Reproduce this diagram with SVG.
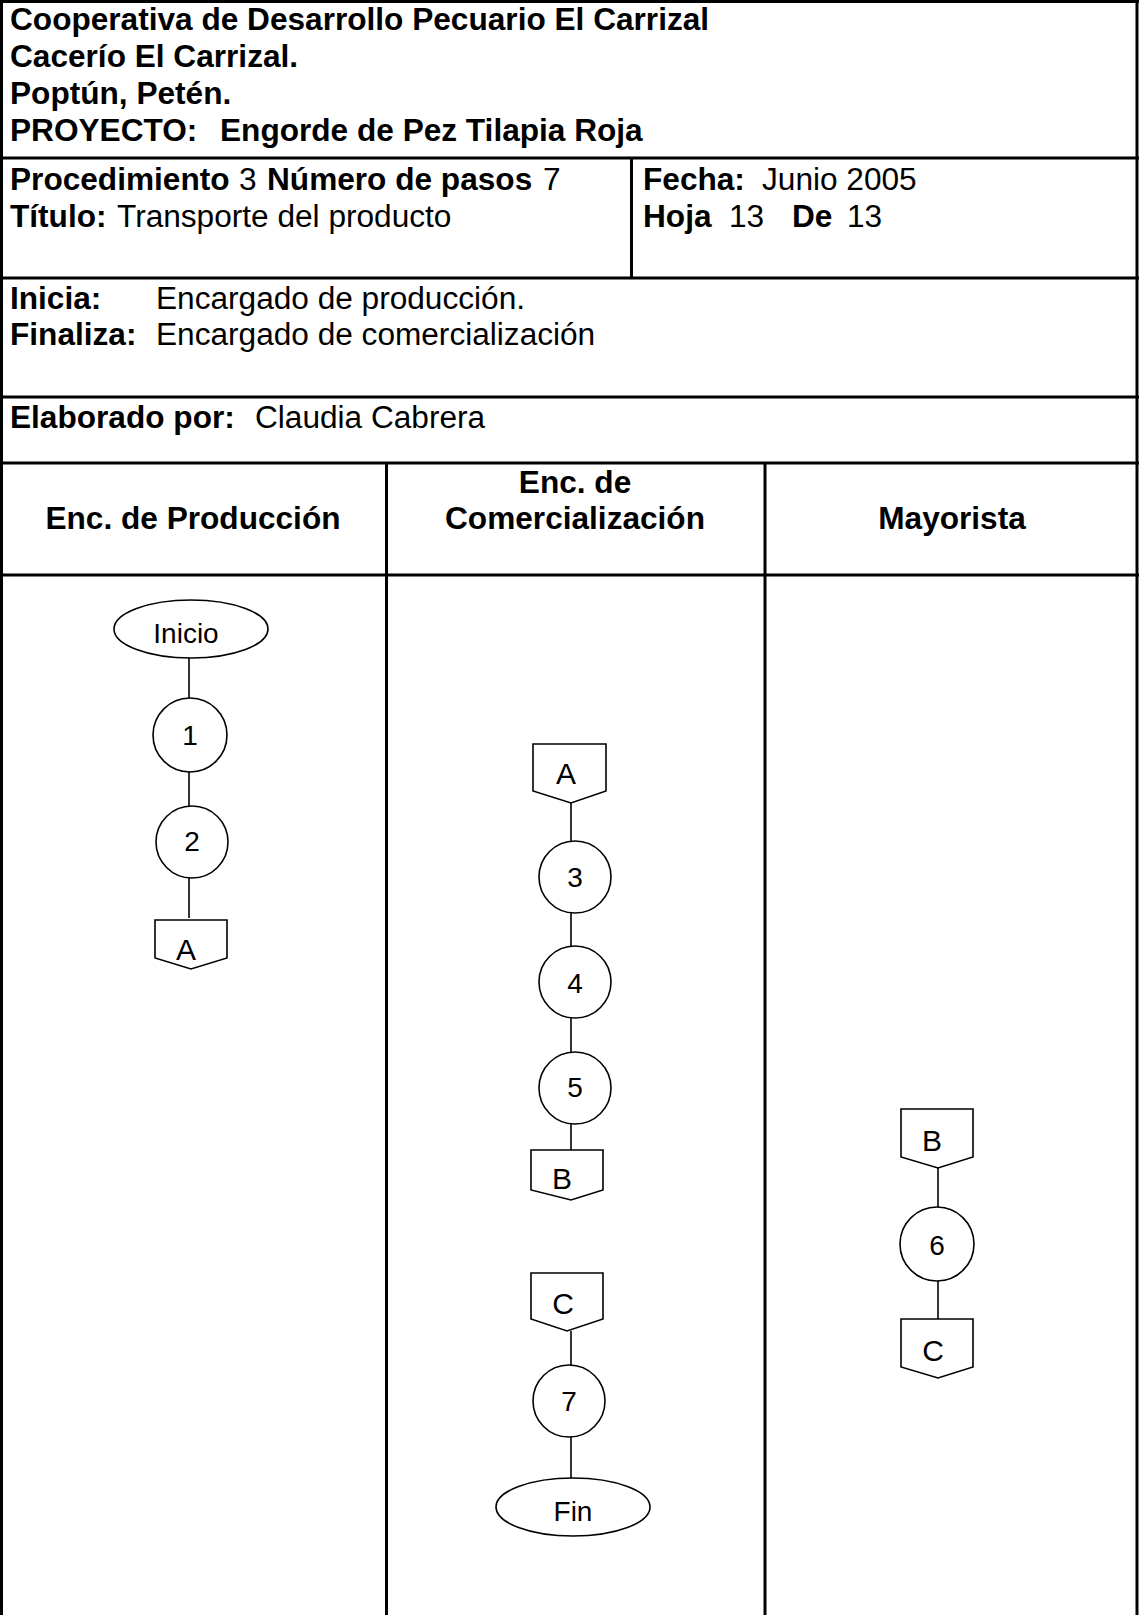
<svg xmlns="http://www.w3.org/2000/svg" width="1139" height="1615" viewBox="0 0 1139 1615">
<style>
text{font-family:"Liberation Sans",Arial,sans-serif;fill:#000}
.h{font-size:31px}
.b{font-weight:bold}
.m{text-anchor:middle}
.s{font-size:28px;text-anchor:middle}
.l{font-size:30px;text-anchor:middle}
.grid{stroke:#000;stroke-width:3;fill:none}
.shape{fill:#fff;stroke:#000;stroke-width:1.6}
.conn line{stroke:#000;stroke-width:1.6}
</style>
<rect width="1139" height="1615" fill="#fff"/>
<g id="table" class="grid">
<line x1="0" y1="1.5" x2="1139" y2="1.5"/>
<line x1="1.5" y1="0" x2="1.5" y2="1615"/>
<line x1="1137" y1="0" x2="1137" y2="1615"/>
<line x1="0" y1="158" x2="1139" y2="158"/>
<line x1="0" y1="278" x2="1139" y2="278"/>
<line x1="0" y1="397" x2="1139" y2="397"/>
<line x1="0" y1="463" x2="1139" y2="463"/>
<line x1="0" y1="575" x2="1139" y2="575"/>
<line x1="631.5" y1="158" x2="631.5" y2="278"/>
<line x1="386.5" y1="463" x2="386.5" y2="1615"/>
<line x1="765" y1="463" x2="765" y2="1615"/>
</g>
<g id="header-text" class="h">
<text class="b" transform="translate(10,30) scale(1.02,1)">Cooperativa de Desarrollo Pecuario El Carrizal</text>
<text class="b" transform="translate(10,67) scale(1.02,1)">Cacerío El Carrizal.</text>
<text class="b" transform="translate(10,104) scale(1.02,1)">Poptún, Petén.</text>
<text class="b" transform="translate(10,141) scale(1.02,1)">PROYECTO:</text>
<text class="b" transform="translate(220,141) scale(1.02,1)">Engorde de Pez Tilapia Roja</text>
<text class="b" transform="translate(10,190) scale(1.02,1)">Procedimiento</text>
<text transform="translate(239,190) scale(1.02,1)">3</text>
<text class="b" transform="translate(267,190) scale(1.02,1)">Número de pasos</text>
<text transform="translate(543,190) scale(1.02,1)">7</text>
<text class="b" transform="translate(10,227) scale(1.02,1)">Título:</text>
<text transform="translate(117,227) scale(1.02,1)">Transporte del producto</text>
<text class="b" transform="translate(643,190) scale(1.02,1)">Fecha:</text>
<text transform="translate(762,190) scale(1.02,1)">Junio 2005</text>
<text class="b" transform="translate(643,227) scale(1.02,1)">Hoja</text>
<text transform="translate(729,227) scale(1.02,1)">13</text>
<text class="b" transform="translate(792,227) scale(1.02,1)">De</text>
<text transform="translate(847,227) scale(1.02,1)">13</text>
<text class="b" transform="translate(10,309) scale(1.02,1)">Inicia:</text>
<text transform="translate(156,309) scale(1.02,1)">Encargado de producción.</text>
<text class="b" transform="translate(10,345) scale(1.02,1)">Finaliza:</text>
<text transform="translate(156,345) scale(1.02,1)">Encargado de comercialización</text>
<text class="b" transform="translate(10,428) scale(1.02,1)">Elaborado por:</text>
<text transform="translate(255,428) scale(1.02,1)">Claudia Cabrera</text>
<text class="b m" transform="translate(193,529) scale(1.02,1)">Enc. de Producción</text>
<text class="b m" transform="translate(575,493) scale(1.02,1)">Enc. de</text>
<text class="b m" transform="translate(575,529) scale(1.02,1)">Comercialización</text>
<text class="b m" transform="translate(952,529) scale(1.02,1)">Mayorista</text>
</g>
<g id="connectors" class="conn">
<line x1="189" y1="658" x2="189" y2="698"/>
<line x1="189" y1="771" x2="189" y2="808"/>
<line x1="189" y1="877" x2="189" y2="918"/>
<line x1="571" y1="803" x2="571" y2="841"/>
<line x1="571" y1="913" x2="571" y2="948"/>
<line x1="571" y1="1018" x2="571" y2="1052"/>
<line x1="571" y1="1124" x2="571" y2="1150"/>
<line x1="938" y1="1168" x2="938" y2="1208"/>
<line x1="938" y1="1281" x2="938" y2="1319"/>
<line x1="571" y1="1331" x2="571" y2="1367"/>
<line x1="571" y1="1437" x2="571" y2="1478"/>
</g>
<g id="inicio"><ellipse class="shape" cx="191" cy="629" rx="77" ry="29"/><text class="s" x="186" y="643">Inicio</text></g>
<g id="step1"><circle class="shape" cx="190" cy="735" r="37"/><text class="s" x="190" y="745">1</text></g>
<g id="step2"><circle class="shape" cx="192" cy="842" r="36"/><text class="s" x="192" y="851">2</text></g>
<g id="connA-out"><path class="shape" d="M155,920 H227 V958 L191,969 L155,958 Z"/><text class="l" x="186" y="960">A</text></g>
<g id="connA-in"><path class="shape" d="M533,744 H606 V791 L571,803 L533,791 Z"/><text class="l" x="566" y="784">A</text></g>
<g id="step3"><circle class="shape" cx="575" cy="877" r="36"/><text class="s" x="575" y="887">3</text></g>
<g id="step4"><circle class="shape" cx="575" cy="982" r="36"/><text class="s" x="575" y="993">4</text></g>
<g id="step5"><circle class="shape" cx="575" cy="1088" r="36"/><text class="s" x="575" y="1097">5</text></g>
<g id="connB-out"><path class="shape" d="M531,1150 H603 V1190 L571,1200 L531,1190 Z"/><text class="l" x="562" y="1189">B</text></g>
<g id="connC-in"><path class="shape" d="M531,1273 H603 V1319 L567,1331 L531,1319 Z"/><text class="l" x="563" y="1314">C</text></g>
<g id="step7"><circle class="shape" cx="569" cy="1401" r="36"/><text class="s" x="569" y="1411">7</text></g>
<g id="fin"><ellipse class="shape" cx="573" cy="1507" rx="77" ry="29"/><text class="s" x="573" y="1521">Fin</text></g>
<g id="connB-in"><path class="shape" d="M901,1109 H973 V1157 L938,1168 L901,1157 Z"/><text class="l" x="932" y="1151">B</text></g>
<g id="step6"><circle class="shape" cx="937" cy="1244" r="37"/><text class="s" x="937" y="1255">6</text></g>
<g id="connC-out"><path class="shape" d="M901,1319 H973 V1367 L938,1378 L901,1367 Z"/><text class="l" x="933" y="1361">C</text></g>
</svg>
